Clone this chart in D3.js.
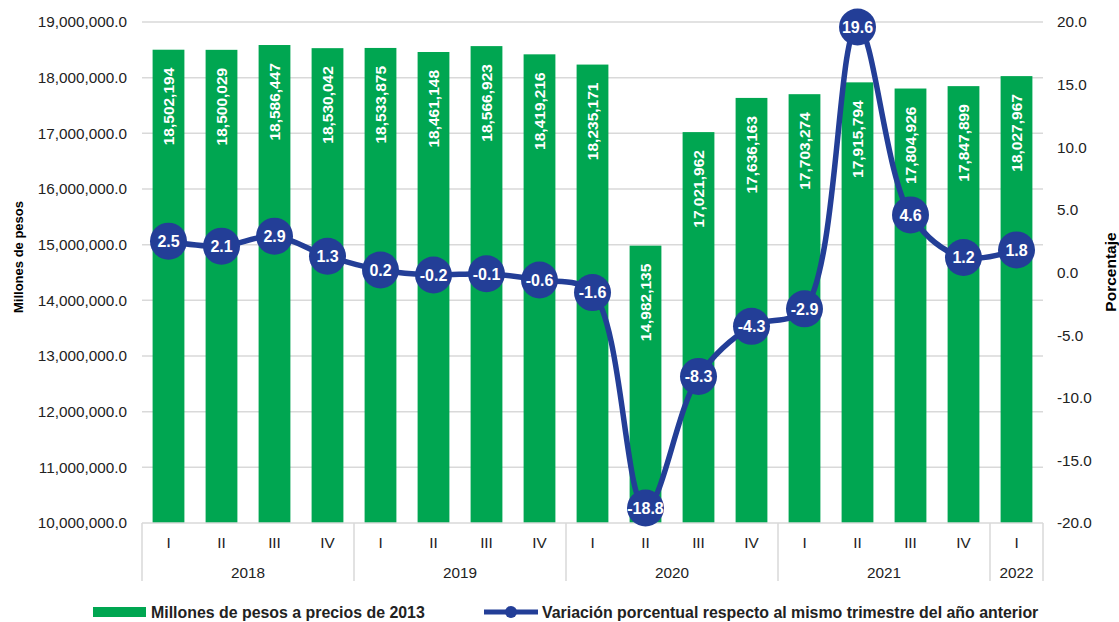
<!DOCTYPE html>
<html>
<head>
<meta charset="utf-8">
<script src="https://cdn.jsdelivr.net/npm/d3@7"></script>
<style>
  body { margin: 0; background: #fff; }
  svg, svg text { font-family: "Liberation Sans", Arial, sans-serif; }
</style>
</head>
<body>
<div id="chart"></div>
<script>
// Quarter labels, years and the two series
var quarters = ["I", "II", "III", "IV", "I", "II", "III", "IV", "I", "II", "III", "IV", "I", "II", "III", "IV", "I"];
var years = ["2018", "2019", "2020", "2021", "2022"];
var yearCounts = [4, 4, 4, 4, 1];
var pesos = [18502194, 18500029, 18586447, 18530042, 18533875, 18461148, 18566923, 18419216,
             18235171, 14982135, 17021962, 17636163, 17703274, 17915794, 17804926, 17847899, 18027967];
var variacion = [2.5, 2.1, 2.9, 1.3, 0.2, -0.2, -0.1, -0.6, -1.6, -18.8, -8.3, -4.3, -2.9, 19.6, 4.6, 1.2, 1.8];
var leftTicks = [10000000, 11000000, 12000000, 13000000, 14000000, 15000000, 16000000, 17000000, 18000000, 19000000];
var rightTicks = [-20, -15, -10, -5, 0, 5, 10, 15, 20];

var green = "#00a651";
var blue = "#233e97";
var grid = "#d9d9d9";

var W = 1119, H = 622;
var margin = {left: 142, right: 76, top: 22, bottom: 99};
var width = W - margin.left - margin.right;
var height = H - margin.top - margin.bottom;

// plain hyphen for negatives, like the original
var fmt1 = function (d) { return d3.format(".1f")(d).replace("\u2212", "-"); };

var svg = d3.select("#chart").append("svg")
    .attr("width", W)
    .attr("height", H);
var chart = svg.append("g")
    .attr("transform", "translate(" + margin.left + "," + margin.top + ")");

var idx = d3.range(pesos.length);

// Scales
var x = d3.scaleBand().domain(idx).range([0, width]).paddingInner(0.4).paddingOuter(0.2);
var band = d3.scaleBand().domain(idx).range([0, width]);
var yLeft = d3.scaleLinear().domain([10000000, 19000000]).range([height, 0]);
var yRight = d3.scaleLinear().domain([-20, 20]).range([height, 0]);

// Gridlines
chart.append("g")
    .selectAll("line")
    .data(leftTicks.slice(1))
    .enter().append("line")
    .attr("x1", 0).attr("x2", width)
    .attr("y1", function (d) { return yLeft(d); })
    .attr("y2", function (d) { return yLeft(d); })
    .attr("stroke", grid).attr("stroke-width", 1.5);

// Left axis labels
chart.append("g")
    .call(d3.axisLeft(yLeft).tickValues(leftTicks).tickFormat(d3.format(",.1f")).tickSize(0).tickPadding(15))
    .call(function (g) { g.select(".domain").remove(); })
    .selectAll("text")
    .attr("font-size", 15.3)
    .attr("fill", "#222");

// Right axis labels
chart.append("g")
    .attr("transform", "translate(" + width + ",0)")
    .call(d3.axisRight(yRight).tickValues(rightTicks).tickFormat(fmt1).tickSize(0).tickPadding(14))
    .call(function (g) { g.select(".domain").remove(); })
    .selectAll("text")
    .attr("font-size", 15.3)
    .attr("fill", "#222");

// Axis titles
svg.append("text")
    .attr("transform", "translate(18,257) rotate(-90)")
    .attr("text-anchor", "middle")
    .attr("dy", "0.35em")
    .attr("font-size", 13)
    .attr("font-weight", "bold")
    .text("Millones de pesos");
svg.append("text")
    .attr("transform", "translate(1111,272) rotate(-90)")
    .attr("text-anchor", "middle")
    .attr("dy", "0.35em")
    .attr("font-size", 15.5)
    .attr("font-weight", "bold")
    .text("Porcentaje");

// Bars
chart.append("g")
    .selectAll("rect")
    .data(pesos)
    .enter().append("rect")
    .attr("x", function (d, i) { return x(i); })
    .attr("width", x.bandwidth())
    .attr("y", function (d) { return yLeft(d); })
    .attr("height", function (d) { return height - yLeft(d); })
    .attr("fill", green);

// Bar labels, rotated, inside the top of each bar
chart.append("g")
    .selectAll("text")
    .data(pesos)
    .enter().append("text")
    .attr("transform", function (d, i) {
        return "translate(" + (x(i) + x.bandwidth() / 2) + "," + (yLeft(d) + 18) + ") rotate(-90)";
    })
    .attr("text-anchor", "end")
    .attr("dy", "0.35em")
    .attr("fill", "#fff")
    .attr("font-size", 15.5)
    .attr("font-weight", "bold")
    .text(function (d) { return d3.format(",")(d); });

// Category axis: baseline, quarter labels, year groups
var axis = chart.append("g").attr("transform", "translate(0," + height + ")");
axis.append("line")
    .attr("x1", 0).attr("x2", width)
    .attr("stroke", grid).attr("stroke-width", 1.5);
axis.selectAll(".q")
    .data(quarters)
    .enter().append("text")
    .attr("class", "q")
    .attr("x", function (d, i) { return band(i) + band.bandwidth() / 2; })
    .attr("y", 25)
    .attr("text-anchor", "middle")
    .attr("font-size", 15.3)
    .attr("fill", "#222")
    .text(function (d) { return d; });

var starts = [0];
yearCounts.forEach(function (c, i) { starts.push(starts[i] + c); });
axis.selectAll(".sep")
    .data(starts)
    .enter().append("line")
    .attr("class", "sep")
    .attr("x1", function (d) { return d * band.bandwidth(); })
    .attr("x2", function (d) { return d * band.bandwidth(); })
    .attr("y1", 0).attr("y2", 58)
    .attr("stroke", grid).attr("stroke-width", 1.5);
axis.selectAll(".yr")
    .data(years)
    .enter().append("text")
    .attr("class", "yr")
    .attr("x", function (d, i) { return (starts[i] + yearCounts[i] / 2) * band.bandwidth(); })
    .attr("y", 55)
    .attr("text-anchor", "middle")
    .attr("font-size", 15.3)
    .attr("fill", "#222")
    .text(function (d) { return d; });

// Smoothed line with markers
var line = d3.line()
    .x(function (d, i) { return x(i) + x.bandwidth() / 2; })
    .y(function (d) { return yRight(d); })
    .curve(d3.curveCatmullRom.alpha(0.5));
chart.append("path")
    .datum(variacion)
    .attr("d", line)
    .attr("fill", "none")
    .attr("stroke", blue)
    .attr("stroke-width", 5.5);

var marks = chart.append("g")
    .selectAll("g")
    .data(variacion)
    .enter().append("g")
    .attr("transform", function (d, i) {
        return "translate(" + (x(i) + x.bandwidth() / 2) + "," + yRight(d) + ")";
    });
marks.append("circle")
    .attr("r", 18.5)
    .attr("fill", blue);
marks.append("text")
    .attr("text-anchor", "middle")
    .attr("dy", "0.36em")
    .attr("fill", "#fff")
    .attr("font-size", 16)
    .attr("font-weight", "bold")
    .text(fmt1);

// Legend
var legend = svg.append("g").attr("transform", "translate(0,612)");
legend.append("rect")
    .attr("x", 93).attr("y", -5)
    .attr("width", 53).attr("height", 10)
    .attr("fill", green);
legend.append("text")
    .attr("x", 151).attr("dy", "0.35em")
    .attr("font-size", 15.9)
    .attr("font-weight", "bold")
    .attr("fill", "#222")
    .text("Millones de pesos a precios de 2013");
legend.append("line")
    .attr("x1", 484).attr("x2", 538)
    .attr("stroke", blue).attr("stroke-width", 5);
legend.append("circle")
    .attr("cx", 511).attr("r", 6)
    .attr("fill", blue);
legend.append("text")
    .attr("x", 542).attr("dy", "0.35em")
    .attr("font-size", 15.9)
    .attr("font-weight", "bold")
    .attr("fill", "#222")
    .text("Variación porcentual respecto al mismo trimestre del año anterior");
</script>
</body>
</html>
